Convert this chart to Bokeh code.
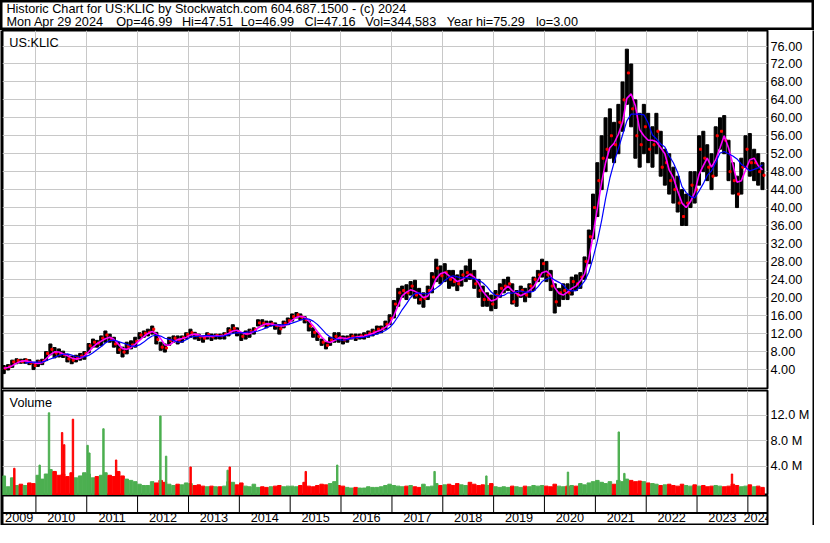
import pandas as pd
from bokeh.plotting import figure
from bokeh.layouts import column, row
from bokeh.models import (ColumnDataSource, Range1d, LinearAxis, FixedTicker, Grid,
                          NumeralTickFormatter, CustomJSTickFormatter, Label, LabelSet)
from bokeh.core.properties import value
from bokeh.embed import file_html
from bokeh.resources import INLINE

# ---------------- data (monthly, May 2009 - Apr 2024) ----------------
first_month = "2009-05-01"
high = [
    4.8, 5.0, 6.0, 6.3, 6.2, 6.3, 6.1, 5.5,                               # 2009
    6.0, 6.2, 7.9, 9.6, 8.8, 8.5, 8.0, 7.2, 6.9, 7.1, 7.5, 7.9,            # 2010
    9.7, 10.7, 10.4, 11.4, 12.5, 11.8, 11.1, 10.0, 8.9, 10.0, 10.3, 11.1,  # 2011
    12.1, 12.5, 12.9, 13.6, 12.2, 10.0, 9.6, 11.1, 11.4, 11.4, 11.4, 12.1, # 2012
    12.9, 12.2, 11.8, 11.4, 12.1, 11.8, 11.8, 11.8, 12.1, 13.2, 13.9, 13.2,# 2013
    12.1, 12.5, 12.9, 13.2, 15.0, 15.0, 14.7, 14.7, 14.3, 13.9, 14.7, 15.4,# 2014
    16.3, 16.6, 16.3, 15.7, 14.7, 13.2, 12.1, 10.7, 10.0, 11.1, 12.1, 12.1,# 2015
    11.4, 11.4, 11.8, 11.8, 11.8, 12.1, 12.5, 12.9, 13.6, 13.6, 14.7, 16.1,# 2016
    19.3, 22.0, 22.5, 22.8, 23.5, 23.8, 22.0, 21.0, 22.5, 25.5, 28.5, 27.0,# 2017
    27.5, 26.0, 26.0, 25.0, 26.0, 27.0, 28.5, 26.0, 24.0, 22.5, 21.0, 20.5,# 2018
    21.5, 23.0, 24.0, 24.5, 23.0, 21.5, 22.5, 22.0, 23.0, 24.5, 26.0, 28.5,# 2019
    28.0, 26.0, 23.0, 22.0, 23.0, 23.0, 24.5, 25.0, 25.5, 29.0, 35.0, 43.0,# 2020
    50.0, 56.0, 60.0, 62.0, 59.0, 63.0, 68.0, 75.3, 72.0, 64.0, 61.0, 63.0,# 2021
    61.0, 58.0, 61.0, 57.0, 53.0, 52.0, 49.0, 47.0, 44.0, 43.0, 48.0, 48.0,# 2022
    56.0, 57.0, 54.0, 52.0, 58.0, 60.0, 60.5, 55.0, 50.0, 47.0, 51.0, 56.0,# 2023
    56.5, 53.0, 52.0, 50.0,                                                # 2024
]
low = [
    3.0, 3.8, 4.4, 5.2, 5.3, 5.3, 5.0, 3.9,
    4.6, 5.0, 5.9, 7.2, 6.5, 6.7, 6.6, 5.6, 5.2, 5.6, 6.0, 6.2,
    7.6, 8.9, 8.9, 9.2, 10.0, 10.0, 8.9, 7.5, 6.7, 7.4, 8.5, 8.9,
    10.7, 11.1, 11.4, 11.8, 9.6, 8.2, 7.8, 9.3, 10.0, 9.6, 10.0, 10.7,
    11.1, 10.7, 10.4, 10.0, 10.7, 10.4, 10.7, 10.7, 10.7, 11.4, 12.1, 11.4,
    10.4, 10.7, 11.1, 11.8, 13.6, 13.6, 13.2, 13.6, 12.9, 11.8, 13.2, 13.9,
    14.7, 15.4, 15.0, 14.3, 12.5, 11.1, 10.4, 9.3, 8.5, 9.3, 10.0, 10.0,
    9.6, 10.0, 10.7, 10.4, 10.7, 10.7, 11.1, 11.4, 11.8, 12.1, 12.9, 13.9,
    15.4, 18.0, 20.0, 19.5, 20.5, 19.8, 18.5, 17.8, 19.5, 21.0, 23.5, 23.0,
    23.5, 22.0, 22.5, 21.5, 22.5, 23.5, 24.0, 22.0, 20.0, 18.0, 18.0, 17.0,
    17.5, 20.0, 21.0, 21.5, 18.5, 18.0, 20.0, 19.0, 20.0, 21.5, 23.5, 24.5,
    23.5, 21.5, 16.5, 18.0, 19.5, 19.5, 20.5, 21.5, 22.0, 24.0, 27.5, 33.0,
    38.0, 44.0, 48.0, 51.0, 50.0, 52.0, 57.0, 63.0, 58.0, 51.0, 49.0, 52.0,
    50.0, 49.0, 52.0, 47.0, 45.0, 43.0, 41.0, 39.0, 36.0, 36.0, 40.0, 41.0,
    45.0, 48.0, 46.0, 44.0, 47.0, 53.0, 52.0, 46.0, 43.0, 40.0, 43.0, 49.0,
    47.0, 46.0, 45.0, 44.0,
]
close = [
    4.2, 4.5, 5.6, 5.9, 5.7, 6.0, 5.4, 4.8,
    5.6, 5.8, 7.5, 8.4, 7.6, 7.4, 7.2, 6.3, 6.0, 6.4, 6.9, 7.5,
    9.2, 10.0, 9.8, 10.9, 11.6, 10.8, 9.6, 8.3, 7.8, 9.1, 9.4, 10.2,
    11.6, 12.0, 12.2, 12.9, 10.6, 8.9, 8.7, 10.4, 10.9, 10.5, 11.0, 11.7,
    12.1, 11.6, 11.2, 10.9, 11.7, 11.2, 11.5, 11.4, 11.8, 12.6, 13.1, 12.3,
    11.3, 11.9, 12.4, 12.8, 14.3, 14.2, 13.9, 14.1, 13.7, 13.0, 14.2, 14.8,
    15.7, 16.1, 15.6, 15.0, 13.6, 12.2, 11.3, 10.0, 9.3, 10.5, 11.3, 11.0,
    10.5, 10.9, 11.3, 11.1, 11.4, 11.5, 12.0, 12.3, 12.9, 13.0, 14.0, 15.3,
    18.5, 21.0, 21.5, 21.0, 22.5, 20.5, 19.5, 19.8, 21.5, 24.5, 26.5, 24.8,
    25.5, 24.0, 23.5, 23.0, 25.0, 25.5, 25.0, 23.0, 21.5, 19.5, 19.5, 18.5,
    20.5, 22.0, 22.5, 23.0, 19.0, 20.5, 21.5, 20.5, 22.5, 24.0, 25.0, 27.5,
    25.0, 22.5, 19.0, 21.0, 21.5, 21.0, 23.5, 23.0, 24.5, 28.0, 33.5, 40.0,
    46.0, 51.0, 53.0, 56.0, 54.0, 59.0, 64.0, 70.0, 62.0, 56.0, 54.0, 58.0,
    53.0, 54.0, 57.0, 49.0, 50.0, 46.0, 44.0, 41.0, 38.0, 41.0, 45.0, 44.0,
    53.0, 51.0, 49.0, 47.0, 56.0, 57.0, 55.0, 48.0, 46.0, 43.0, 49.0, 53.0,
    50.0, 50.0, 48.0, 47.2,
]
# typical weekly volume in each month, millions
volume = [
    2.5, 0.8, 2.2, 1.0, 1.2, 1.0, 1.4, 1.3,
    2.6, 2.0, 2.8, 3.5, 3.2, 2.6, 2.8, 2.4, 3.0, 2.2, 2.5, 3.0,
    2.8, 2.2, 2.4, 2.6, 3.0, 2.6, 2.4, 3.2, 2.5, 2.0, 1.8, 1.6,
    1.2, 1.0, 1.0, 1.6, 1.4, 1.8, 1.5, 1.2, 1.0, 1.2, 1.1, 1.4,
    1.3, 1.0, 1.1, 0.9, 0.8, 0.9, 0.8, 0.8, 0.9, 1.6, 1.5, 1.1,
    1.4, 0.9, 0.8, 1.2, 0.7, 0.8, 0.7, 0.8, 0.9, 1.0, 0.8, 0.9,
    0.9, 0.8, 1.0, 1.5, 0.9, 0.8, 1.0, 1.2, 1.1, 1.3, 1.6, 1.0,
    0.9, 0.7, 0.6, 0.7, 0.6, 0.6, 0.8, 0.7, 0.7, 0.8, 1.0, 1.2,
    1.0, 0.9, 0.8, 0.9, 1.0, 0.8, 0.7, 1.2, 0.8, 0.9, 1.3, 1.0,
    1.1, 1.2, 1.0, 1.3, 1.1, 1.0, 1.5, 1.2, 1.0, 1.1, 1.0, 1.3,
    0.8, 0.7, 0.8, 0.7, 0.9, 0.8, 0.7, 0.9, 0.8, 1.0, 0.9, 1.0,
    0.9, 0.8, 1.2, 0.9, 0.8, 0.9, 1.0, 0.9, 1.3, 1.1, 1.4, 1.6,
    1.8, 1.5, 1.3, 1.6, 1.2, 1.8, 1.6, 2.0, 1.8, 1.6, 1.7, 1.6,
    1.4, 1.3, 1.2, 1.0, 1.1, 1.2, 1.0, 0.9, 1.2, 1.0, 0.9, 1.1,
    0.9, 1.0, 0.8, 0.9, 1.0, 0.9, 0.8, 0.9, 1.2, 1.0, 0.8, 0.9,
    1.1, 0.8, 0.9, 0.7,
]
# individual heavy-volume weeks (millions)
spike_dates = ["2009-07-30", "2010-01-28", "2010-04-05", "2010-07-08", "2010-07-23",
               "2010-09-24", "2011-01-07", "2011-01-20", "2011-05-01", "2011-07-31",
               "2012-06-13", "2012-07-24", "2013-01-16", "2013-10-09", "2013-10-24",
               "2015-04-23", "2015-12-05", "2017-11-03", "2018-11-10", "2020-06-18",
               "2021-06-18", "2021-07-28", "2023-09-09"]
spike_vol = [3.7, 4.2, 12.4, 9.3, 7.4, 11.4, 7.3, 6.1, 9.9, 5.0, 11.9, 5.6, 3.9, 3.4, 3.9,
             3.2, 4.2, 3.2, 2.5, 3.1, 9.4, 2.9, 2.8]
spike_up = [0, 1, 1, 0, 0, 0, 1, 1, 1, 0, 1, 1, 0, 1, 0, 0, 1, 1, 1, 1, 1, 1, 0]

price_ticks = [4, 8, 12, 16, 20, 24, 28, 32, 36, 40, 44, 48, 52, 56, 60, 64, 68, 72, 76]
vol_ticks = [4, 8, 12]
year_labels = [str(y) for y in range(2009, 2025)]
title_text = "Historic Chart for US:KLIC by Stockwatch.com 604.687.1500 - (c) 2024"
quote_fields = ["Mon Apr 29 2024", "Op=46.99", "Hi=47.51", "Lo=46.99", "Cl=47.16",
                "Vol=344,583", "Year hi=75.29", "lo=3.00"]
symbol = "US:KLIC"

# ---------------- styling / layout ----------------
FONT = "Liberation Sans"
FS = "12.7px"
GRID = "#c8c8c8"
GREEN = "#4caf50"
RED = "#ff0000"
SX = 814 / 830
SY = 527 / 543
TXT_SHIFT = 3.2   # compensation for label baseline placement
field_x_ref = [6, 118, 185, 245, 310, 372, 455, 546]

W_MID = 810
RIGHT = 44
H_HEAD, H_PRICE, H_VOL, H_DATE, H_FOOT = 30, 360, 105, 30, 2

x_start = pd.Timestamp("2009-05-06")
x_end = pd.Timestamp("2024-05-21")
x0ms = x_start.value / 1e6
x1ms = x_end.value / 1e6
MONTH_MS = 30.44 * 86400000.0
DAY_MS = 86400000.0

months = pd.date_range(first_month, periods=len(close), freq="MS") + pd.Timedelta(days=14)
cs = pd.Series(close)
ma_fast = cs.rolling(3, min_periods=1).mean()
ma_slow = cs.rolling(6).mean()
prev = [close[0]] + close[:-1]
vcolors = [GREEN if c >= p else RED for c, p in zip(close, prev)]

src = ColumnDataSource(dict(x=months, hi=high, lo=low, cl=close,
                            xc=months + pd.Timedelta(days=11),
                            ma_f=ma_fast.values, ma_s=ma_slow.values,
                            vol=volume, vcol=vcolors))

year_ms = [pd.Timestamp(f"{y}-01-01").value / 1e6 for y in range(2010, 2025)]


def base_fig(w, h, **kw):
    f = figure(width=w, height=h, output_backend="svg", toolbar_location=None,
               x_axis_location=None, y_axis_location=None, **kw)
    f.grid.visible = False
    return f


def solid(w, h):
    f = base_fig(w, h, min_border=0)
    f.background_fill_color = "black"
    f.border_fill_color = "black"
    f.outline_line_color = None
    return f


def text_label(x, y, txt):
    return Label(x=x, y=y, x_units="screen", y_units="screen", text=txt,
                 text_font=FONT, text_font_size=FS, text_color="black",
                 text_baseline="alphabetic")


# ---- header ----
head = base_fig(814, H_HEAD, min_border=0)
head.border_fill_color = "white"
head.background_fill_color = "white"
head.outline_line_color = "black"
head.outline_line_width = 4
head.add_layout(text_label(6 * SX, H_HEAD - 12.4 * SY + TXT_SHIFT, title_text))
for fx, ftxt in zip(field_x_ref, quote_fields):
    head.add_layout(text_label(fx * SX, H_HEAD - 25.6 * SY + TXT_SHIFT, ftxt))

# ---- price panel ----
xr = Range1d(start=x_start, end=x_end)
p = base_fig(W_MID, H_PRICE, x_range=xr, y_range=Range1d(-0.32, 79.46),
             min_border_left=0, min_border_top=0, min_border_bottom=2, min_border_right=RIGHT)
p.background_fill_color = "white"
p.border_fill_color = "white"
p.outline_line_color = "black"
p.outline_line_width = 2
p.add_layout(Grid(dimension=0, ticker=FixedTicker(ticks=year_ms), grid_line_color=GRID))
p.add_layout(Grid(dimension=1, ticker=FixedTicker(ticks=price_ticks), grid_line_color=GRID))
pax = LinearAxis(ticker=FixedTicker(ticks=price_ticks),
                 formatter=NumeralTickFormatter(format="0.00"),
                 axis_line_color=None, major_tick_line_color=None, minor_tick_line_color=None,
                 major_tick_out=0, major_tick_in=0, major_label_standoff=3,
                 major_label_text_font=FONT, major_label_text_font_size=FS,
                 major_label_text_color="black")
p.add_layout(pax, "right")
p.vbar(x="x", top="hi", bottom="lo", width=0.72 * MONTH_MS, color="black", source=src)
p.rect(x="xc", y="cl", width=2, height=2, width_units="screen", height_units="screen",
       color=RED, source=src)
p.line(x="x", y="ma_f", color="#ff00ff", line_width=1.6, source=src)
p.line(x="x", y="ma_s", color="#0000ff", line_width=1.2, source=src)
p.add_layout(text_label(9 * SX - 2, (H_PRICE - 2) - (46.7 * SY - H_HEAD) + TXT_SHIFT, symbol))

# ---- volume panel ----
VOL_LO, VOL_HI = -0.57, 15.9
v = base_fig(W_MID, H_VOL, x_range=xr, y_range=Range1d(VOL_LO, VOL_HI),
             min_border_left=0, min_border_top=0, min_border_bottom=0, min_border_right=RIGHT)
v.background_fill_color = "white"
v.border_fill_color = "white"
v.outline_line_color = "black"
v.outline_line_width = 2
v.add_layout(Grid(dimension=0, ticker=FixedTicker(ticks=year_ms), grid_line_color=GRID))
v.add_layout(Grid(dimension=1, ticker=FixedTicker(ticks=vol_ticks), grid_line_color=GRID))
vax = LinearAxis(ticker=FixedTicker(ticks=vol_ticks),
                 formatter=CustomJSTickFormatter(code="return tick.toFixed(1) + ' M'"),
                 axis_line_color=None, major_tick_line_color=None, minor_tick_line_color=None,
                 major_tick_out=0, major_tick_in=0, major_label_standoff=3,
                 major_label_text_font=FONT, major_label_text_font_size=FS,
                 major_label_text_color="black")
v.add_layout(vax, "right")
v.vbar(x="x", top="vol", bottom=VOL_LO, width=0.85 * MONTH_MS, color="vcol", source=src)
ssrc = ColumnDataSource(dict(x=pd.to_datetime(spike_dates), top=spike_vol,
                             c=[GREEN if u else RED for u in spike_up]))
v.vbar(x="x", top="top", bottom=VOL_LO, width=10 * DAY_MS, color="c", source=ssrc)
v.add_layout(text_label(9.3 * SX - 2, H_VOL - (418 * SY - (H_HEAD + H_PRICE)) + TXT_SHIFT,
                        "Volume"))

# ---- date strip ----
d = base_fig(W_MID, H_DATE, x_range=xr, y_range=Range1d(0, 1),
             min_border_left=0, min_border_top=0, min_border_right=RIGHT, min_border_bottom=0)
d.background_fill_color = "white"
d.border_fill_color = "white"
d.outline_line_color = "black"
d.outline_line_width = 2
MID = 0.42
d.segment(x0=year_ms, x1=year_ms, y0=[MID] * len(year_ms), y1=[1.0] * len(year_ms),
          line_color="black", line_width=1)
d.segment(x0=[x0ms], x1=[x1ms], y0=[MID], y1=[MID], line_color="black", line_width=2)
bounds = [x0ms] + year_ms + [x1ms]
label_x = [(a + b) / 2 for a, b in zip(bounds[:-1], bounds[1:])]
lsrc = ColumnDataSource(dict(x=label_x, y=[0.115] * len(label_x), t=year_labels))
d.add_layout(LabelSet(x="x", y="y", text="t", source=lsrc, text_font=value(FONT),
                      text_font_size=value(FS), text_align="center",
                      text_baseline="alphabetic", text_color="black"))

mid = column(p, v, d, spacing=0)
side_h = H_PRICE + H_VOL + H_DATE
body = row(solid(2, side_h), mid, solid(2, side_h), spacing=0)
root = column(head, body, solid(814, H_FOOT), spacing=0)

open("out.html", "w").write(file_html(root, INLINE))
